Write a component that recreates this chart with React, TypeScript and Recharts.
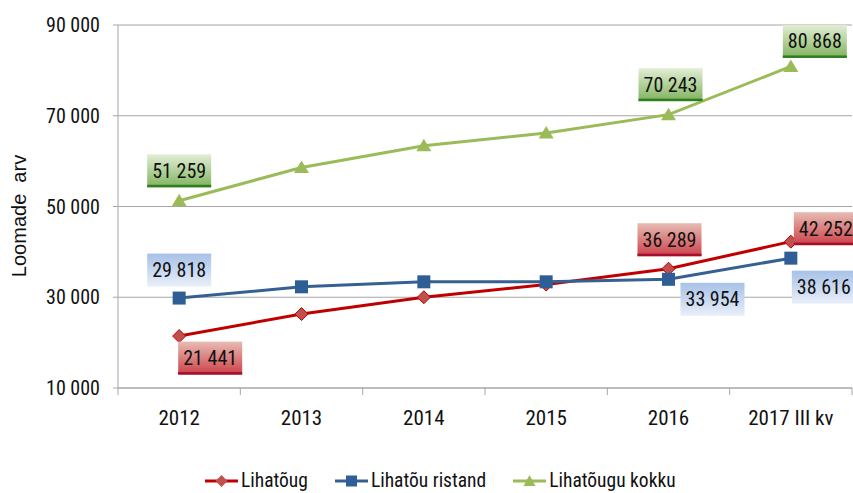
import { LineChart, Line, XAxis, YAxis, CartesianGrid, Legend, LabelList } from "recharts";

const years = ["2012", "2013", "2014", "2015", "2016", "2017 III kv"];
const lihatoug = [21441, 26300, 30000, 32800, 36289, 42252];
const ristand = [29818, 32300, 33400, 33400, 33954, 38616];
const kokku = [51259, 58600, 63400, 66200, 70243, 80868];
const yTicks = [10000, 30000, 50000, 70000, 90000];

const data = years.map((year, i) => ({
  year,
  lihatoug: lihatoug[i],
  ristand: ristand[i],
  kokku: kokku[i],
}));

const FONT = '"Liberation Sans Narrow", "Arial Narrow", "Roboto Condensed", sans-serif';
const GRID = "#a6a6a6";
const HALF_BAND = 734 / 12;

// label box offsets from the point (box centre), per series and category index
const labelPos: Record<string, Record<number, [number, number]>> = {
  lihatoug: { 0: [31, 22], 4: [1, -29], 5: [35, -13] },
  ristand: { 0: [0, -28], 4: [44, 20], 5: [33, 29] },
  kokku: { 0: [0, -30], 4: [2, -30], 5: [24, -25] },
};

const fmt = (v: number) => String(v).replace(/\B(?=(\d{3})+(?!\d))/g, " ");

const makeLabel = (key: string, grad: string, edge?: string) => (p: any) => {
  const pos = labelPos[key][p.index];
  if (!pos) return null;
  const cx = p.x + pos[0];
  const cy = p.y + pos[1];
  return (
    <g>
      <rect x={cx - 32} y={cy - 16.5} width={64} height={33} fill={`url(#${grad})`} />
      {edge && <rect x={cx - 32} y={cy + 14} width={64} height={2.5} fill={edge} />}
      <text x={cx} y={cy} textAnchor="middle" dominantBaseline="central" fontSize={20} fontFamily={FONT} fill="#111">
        {fmt(p.value)}
      </text>
    </g>
  );
};

const Diamond = ({ cx, cy }: any) =>
  cx == null ? null : (
    <polygon
      points={`${cx},${cy - 6.5} ${cx + 6.5},${cy} ${cx},${cy + 6.5} ${cx - 6.5},${cy}`}
      fill="#c0504d"
      stroke="#c00000"
      strokeWidth={1}
    />
  );

const Square = ({ cx, cy }: any) =>
  cx == null ? null : <rect x={cx - 6.5} y={cy - 6.5} width={13} height={13} fill="#2f5e97" />;

const Triangle = ({ cx, cy }: any) =>
  cx == null ? null : (
    <polygon points={`${cx},${cy - 7} ${cx + 7.5},${cy + 5.5} ${cx - 7.5},${cy + 5.5}`} fill="#9bbb59" />
  );

const XTick = ({ x, y, payload, index }: any) => (
  <g>
    {index === 0 && <line x1={x - HALF_BAND} x2={x - HALF_BAND} y1={y} y2={y + 7} stroke={GRID} />}
    <line x1={x + HALF_BAND} x2={x + HALF_BAND} y1={y} y2={y + 7} stroke={GRID} />
    <text x={x} y={y + 30} textAnchor="middle" dominantBaseline="central" fontSize={21} fontFamily={FONT} fill="#111">
      {payload.value}
    </text>
  </g>
);

const YLabel = () => (
  <text
    x={19}
    y={216}
    transform="rotate(-90 19 216)"
    textAnchor="middle"
    dominantBaseline="central"
    fontSize={20}
    fontFamily='"Liberation Sans", Arial, sans-serif'
    fill="#111"
    style={{ whiteSpace: "pre" }}
  >
    {"Loomade  arv"}
  </text>
);

const legendItems = [
  { name: "Lihatõug", color: "#c00000", marker: "diamond" },
  { name: "Lihatõu ristand", color: "#376092", marker: "square" },
  { name: "Lihatõugu kokku", color: "#9bbb59", marker: "triangle" },
];

const LegendContent = () => (
  <div style={{ display: "flex", paddingLeft: 205, paddingTop: 16, fontFamily: FONT, fontSize: 19.5, color: "#111" }}>
    {legendItems.map((it) => (
      <div key={it.name} style={{ display: "flex", alignItems: "center", marginRight: 27, lineHeight: "24px" }}>
        <svg width={33} height={16} style={{ marginRight: 3 }}>
          <line x1={0} x2={33} y1={8} y2={8} stroke={it.color} strokeWidth={3} />
          {it.marker === "diamond" && <polygon points="16.5,2 22.5,8 16.5,14 10.5,8" fill="#c0504d" />}
          {it.marker === "square" && <rect x={11} y={2.5} width={11} height={11} fill="#2f5e97" />}
          {it.marker === "triangle" && <polygon points="16.5,2 22.5,13 10.5,13" fill="#9bbb59" />}
        </svg>
        <span>{it.name}</span>
      </div>
    ))}
  </div>
);

export default function App() {
  return (
    <div style={{ position: "absolute", left: 0, top: 0, background: "#fff" }}>
      <LineChart width={853} height={493} data={data} margin={{ top: 25, right: 1, left: 0, bottom: 0 }}>
        <defs>
          <linearGradient id="gGreen" x1="0" y1="0" x2="0" y2="1">
            <stop offset="0%" stopColor="#e2eed5" />
            <stop offset="100%" stopColor="#80b35e" />
          </linearGradient>
          <linearGradient id="gRed" x1="0" y1="0" x2="0" y2="1">
            <stop offset="0%" stopColor="#e7bcb3" />
            <stop offset="100%" stopColor="#cc4049" />
          </linearGradient>
          <linearGradient id="gBlue" x1="0" y1="0" x2="0" y2="1">
            <stop offset="0%" stopColor="#a7c1e7" />
            <stop offset="100%" stopColor="#e9eff9" />
          </linearGradient>
        </defs>
        <CartesianGrid vertical={false} stroke={GRID} />
        <XAxis
          dataKey="year"
          padding={{ left: HALF_BAND, right: HALF_BAND }}
          axisLine={{ stroke: GRID }}
          tickLine={false}
          tickSize={0}
          tickMargin={0}
          tick={<XTick />}
          height={65}
          interval={0}
        />
        <YAxis
          width={118}
          domain={[10000, 90000]}
          ticks={yTicks}
          tickFormatter={fmt}
          tickSize={5}
          tickMargin={13}
          axisLine={{ stroke: GRID }}
          tickLine={{ stroke: GRID }}
          tick={{ fill: "#111", fontSize: 20, fontFamily: FONT }}
          label={<YLabel />}
        />
        <Legend verticalAlign="bottom" height={40} content={<LegendContent />} />
        <Line
          dataKey="lihatoug"
          name="Lihatõug"
          stroke="#c00000"
          strokeWidth={3}
          dot={<Diamond />}
          isAnimationActive={false}
        >
          <LabelList dataKey="lihatoug" content={makeLabel("lihatoug", "gRed", "#a50f2d")} />
        </Line>
        <Line
          dataKey="ristand"
          name="Lihatõu ristand"
          stroke="#376092"
          strokeWidth={3}
          dot={<Square />}
          isAnimationActive={false}
        >
          <LabelList dataKey="ristand" content={makeLabel("ristand", "gBlue")} />
        </Line>
        <Line
          dataKey="kokku"
          name="Lihatõugu kokku"
          stroke="#9bbb59"
          strokeWidth={3}
          dot={<Triangle />}
          isAnimationActive={false}
        >
          <LabelList dataKey="kokku" content={makeLabel("kokku", "gGreen", "#2e7d1e")} />
        </Line>
      </LineChart>
    </div>
  );
}
